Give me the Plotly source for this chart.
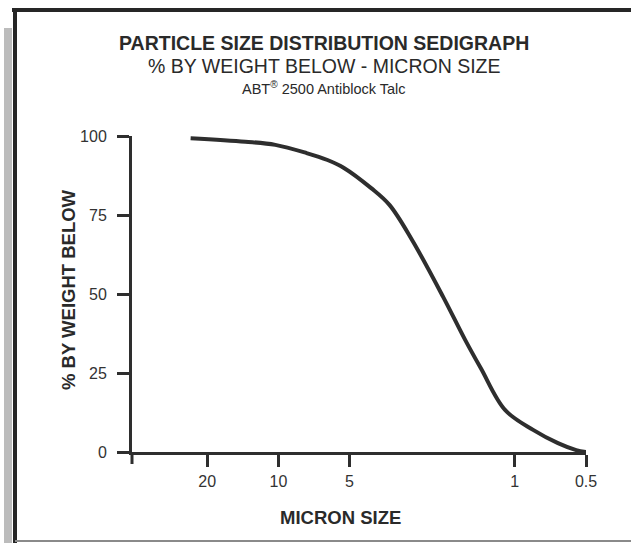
import plotly.graph_objects as go
import math

micron_size = [23.5, 13.8, 10.3, 7.6, 6.2, 5.28, 4.05, 3.39, 2.72, 2.01, 1.62, 1.39, 1.10, 0.837, 0.657, 0.55, 0.5]
pct_below   = [99.3, 98.2, 97.2, 94.6, 92.4, 89.9, 83.5, 78.2, 67.1, 49.1, 35.4, 26.4, 13.3, 7.0, 2.8, 0.6, 0.0]

x_tick_vals = [20, 10, 5, 1, 0.5]
x_tick_text = ["20", "10", "5", "1", "0.5"]
y_tick_vals = [0, 25, 50, 75, 100]
y_tick_text = ["0", "25", "50", "75", "100"]

title_1 = "<b>PARTICLE SIZE DISTRIBUTION SEDIGRAPH</b>"
title_2 = "% BY WEIGHT BELOW - MICRON SIZE"
title_3 = "ABT<sup>®</sup> 2500 Antiblock Talc"
x_title = "<b>MICRON SIZE</b>"
y_title = "<b>% BY WEIGHT BELOW</b>"

# ---- layout geometry ----
W, H = 631, 543
L, R, T, B = 132, 45, 136, 91
PW, PH = W - L - R, H - T - B
X_START = 1.619           # log10 of the left end of the axis
X_END = math.log10(0.5)

def px2x(px):
    return (px - L) / PW

def py2y(py):
    return (H - B - py) / PH

INK = "#2e2e2e"
TXT = "#2a2a2a"
FONT = "Liberation Sans, Arial, Helvetica, sans-serif"

fig = go.Figure()
fig.add_trace(go.Scatter(
    x=micron_size, y=pct_below, mode="lines",
    line=dict(color=INK, width=4, shape="spline", smoothing=1.0),
    hoverinfo="skip", showlegend=False,
))

fig.update_xaxes(
    type="log", range=[X_START, X_END],
    tickmode="array", tickvals=x_tick_vals, ticktext=x_tick_text,
    ticks="outside", ticklen=12, tickwidth=3, tickcolor=INK,
    showline=True, linewidth=3, linecolor=INK,
    showgrid=False, zeroline=False,
    tickfont=dict(family=FONT, size=16, color="#333"),
    ticklabelstandoff=1,
)
fig.update_yaxes(
    range=[0, 100],
    tickmode="array", tickvals=y_tick_vals, ticktext=y_tick_text,
    ticks="outside", ticklen=12, tickwidth=3, tickcolor=INK,
    showline=True, linewidth=3, linecolor=INK,
    showgrid=False, zeroline=False,
    tickfont=dict(family=FONT, size=16, color="#333"),
    ticklabelstandoff=7,
)

ann = []
cx = px2x(324)
ann.append(dict(text=title_1, x=cx, y=py2y(43), font=dict(family=FONT, size=19.5, color=TXT)))
ann.append(dict(text=title_2, x=cx, y=py2y(66), font=dict(family=FONT, size=19.5, color=TXT)))
ann.append(dict(text=title_3, x=cx, y=py2y(88), font=dict(family=FONT, size=14.5, color=TXT)))
ann.append(dict(text=x_title, x=px2x(340), y=py2y(517), font=dict(family=FONT, size=18.5, color=TXT)))
ann.append(dict(text=y_title, x=px2x(68), y=py2y(290), textangle=-90, font=dict(family=FONT, size=18.5, color=TXT)))
for a in ann:
    a.update(xref="paper", yref="paper", showarrow=False, xanchor="center", yanchor="middle")

shapes = [
    # gray scanned strip on the far left
    dict(type="rect", x0=px2x(4), x1=px2x(12), y0=py2y(28), y1=py2y(543),
         fillcolor="#bcbcbc", line=dict(width=0)),
    # thick top border
    dict(type="line", x0=px2x(12), x1=px2x(631), y0=py2y(10), y1=py2y(10),
         line=dict(color="#262626", width=4)),
    # thick left border
    dict(type="line", x0=px2x(15), x1=px2x(15), y0=py2y(8), y1=py2y(543),
         line=dict(color="#262626", width=4)),
    # faint bottom border
    dict(type="line", x0=px2x(15), x1=px2x(631), y0=py2y(541), y1=py2y(541),
         line=dict(color="#8a8a8a", width=2)),
    # unlabelled tick at the left end of the x axis
    dict(type="line", x0=0, x1=0, y0=0, y1=py2y(H - B + 12),
         line=dict(color=INK, width=3)),
]
for s in shapes:
    s.update(xref="paper", yref="paper", layer="above")

fig.update_layout(
    width=W, height=H, autosize=False,
    margin=dict(l=L, r=R, t=T, b=B, pad=0),
    paper_bgcolor="white", plot_bgcolor="white",
    annotations=ann, shapes=shapes,
    font=dict(family=FONT, color=TXT),
)

fig.write_html("out.html", config={"displayModeBar": False},
               post_script="document.body.style.margin='0';")
